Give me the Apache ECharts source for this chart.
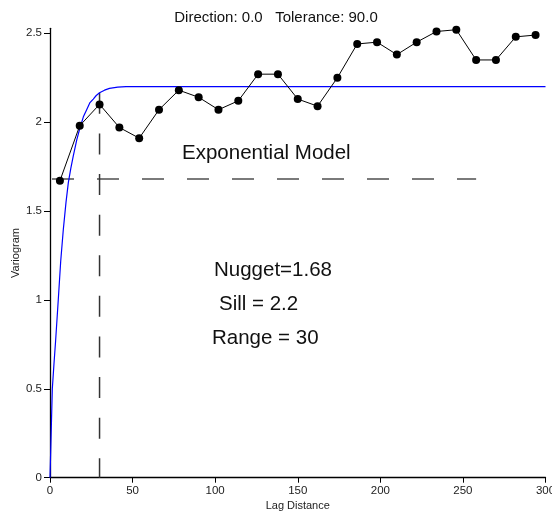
<!DOCTYPE html>
<html>
<head>
<meta charset="utf-8">
<script src="https://cdn.jsdelivr.net/npm/echarts@6/dist/echarts.min.js"></script>
<style>
    html, body { margin: 0; padding: 0; background: #fff; }
    #chart { width: 552px; height: 514px; }
</style>
</head>
<body>
<div id="chart"></div>
<script>
    // experimental variogram: lag distance / semivariance
    var lags = [6, 18, 30, 42, 54, 66, 78, 90, 102, 114, 126, 138, 150, 162, 174,
                186, 198, 210, 222, 234, 246, 258, 270, 282, 294];
    var gammas = [1.67, 1.98, 2.10, 1.97, 1.91, 2.07, 2.18, 2.14, 2.07, 2.12, 2.27, 2.27, 2.13, 2.09, 2.25,
                  2.44, 2.45, 2.38, 2.45, 2.51, 2.52, 2.35, 2.35, 2.48, 2.49];

    // fitted exponential model
    var modelLags = [0, 0.7, 1.4, 2.4, 3.4, 5, 6.5, 8.1, 9.7, 11.1, 12.6, 14.1, 16.2, 18.2, 20.2,
                     22.2, 24.2, 26.2, 28, 30, 33, 36, 41, 46, 300];
    var modelGammas = [0, 0.25, 0.5, 0.64, 0.77, 1.0, 1.22, 1.40, 1.55, 1.66, 1.74, 1.81, 1.90, 1.97, 2.03,
                       2.07, 2.11, 2.13, 2.15, 2.165, 2.18, 2.19, 2.197, 2.2, 2.2];

    // guide lines: nugget level and range
    var nuggetLine = [[1.2, 1.68], [258, 1.68]];
    var rangeLine = [[30, 2.165], [30, 0]];

    var yTicks = [0, 0.5, 1, 1.5, 2, 2.5];
    var xTicks = [0, 50, 100, 150, 200, 250, 300];

    var FONT = 'Liberation Sans, Arial, sans-serif';

    var chart = echarts.init(document.getElementById('chart'));

    var points = lags.map(function (x, i) { return [x, gammas[i]]; });
    var model = modelLags.map(function (x, i) { return [x, modelGammas[i]]; });

    chart.setOption({
        animation: false,
        backgroundColor: '#ffffff',
        grid: { left: 50, right: 6.5, top: 28.3, bottom: 36.3, containLabel: false, outerBoundsMode: 'none' },
        xAxis: {
            type: 'value',
            min: 0,
            max: 300,
            name: 'Lag Distance',
            nameLocation: 'middle',
            nameGap: 23,
            nameMoveOverlap: false,
            nameTextStyle: { fontFamily: FONT, fontSize: 11, color: '#222' },
            axisLine: { lineStyle: { color: '#000', width: 1.3 } },
            axisTick: { length: 5, lineStyle: { color: '#000' }, customValues: xTicks },
            axisLabel: { fontFamily: FONT, fontSize: 11.5, color: '#222', margin: 7, customValues: xTicks },
            splitLine: { show: false }
        },
        yAxis: {
            type: 'value',
            min: 0,
            max: 2.528,
            name: 'Variogram',
            nameLocation: 'middle',
            nameRotate: 90,
            nameGap: 29,
            nameMoveOverlap: false,
            nameTextStyle: { fontFamily: FONT, fontSize: 11, color: '#222' },
            axisLine: { show: true, lineStyle: { color: '#000', width: 1.3 } },
            axisTick: { show: true, length: 6, lineStyle: { color: '#000' }, customValues: yTicks },
            axisLabel: { fontFamily: FONT, fontSize: 11.5, color: '#222', margin: 8, customValues: yTicks },
            splitLine: { show: false }
        },
        graphic: [
            { type: 'text', left: 'center', x: 0, top: 10,
              style: { text: 'Direction: 0.0   Tolerance: 90.0', fontFamily: FONT, fontSize: 15, fill: '#111' } },
            { type: 'text', x: 182, y: 143,
              style: { text: 'Exponential Model', fontFamily: FONT, fontSize: 20.5, fill: '#111' } },
            { type: 'text', x: 214, y: 260,
              style: { text: 'Nugget=1.68', fontFamily: FONT, fontSize: 20.5, fill: '#111' } },
            { type: 'text', x: 219, y: 294,
              style: { text: 'Sill = 2.2', fontFamily: FONT, fontSize: 20.5, fill: '#111' } },
            { type: 'text', x: 212, y: 328,
              style: { text: 'Range = 30', fontFamily: FONT, fontSize: 20.5, fill: '#111' } }
        ],
        series: [
            {
                name: 'nugget',
                type: 'line',
                data: nuggetLine,
                symbol: 'none',
                lineStyle: { color: '#7a7a7a', width: 2, type: [22, 23] },
                z: 1
            },
            {
                name: 'range',
                type: 'line',
                data: rangeLine,
                symbol: 'none',
                lineStyle: { color: '#333', width: 1.5, type: [21, 19.6] },
                z: 1
            },
            {
                name: 'model',
                type: 'line',
                data: model,
                symbol: 'none',
                lineStyle: { color: '#0000ff', width: 1.2 },
                z: 2
            },
            {
                name: 'experimental',
                type: 'line',
                data: points,
                symbol: 'circle',
                symbolSize: 8,
                itemStyle: { color: '#000' },
                lineStyle: { color: '#000', width: 1 },
                z: 3
            }
        ]
    });
</script>
</body>
</html>
